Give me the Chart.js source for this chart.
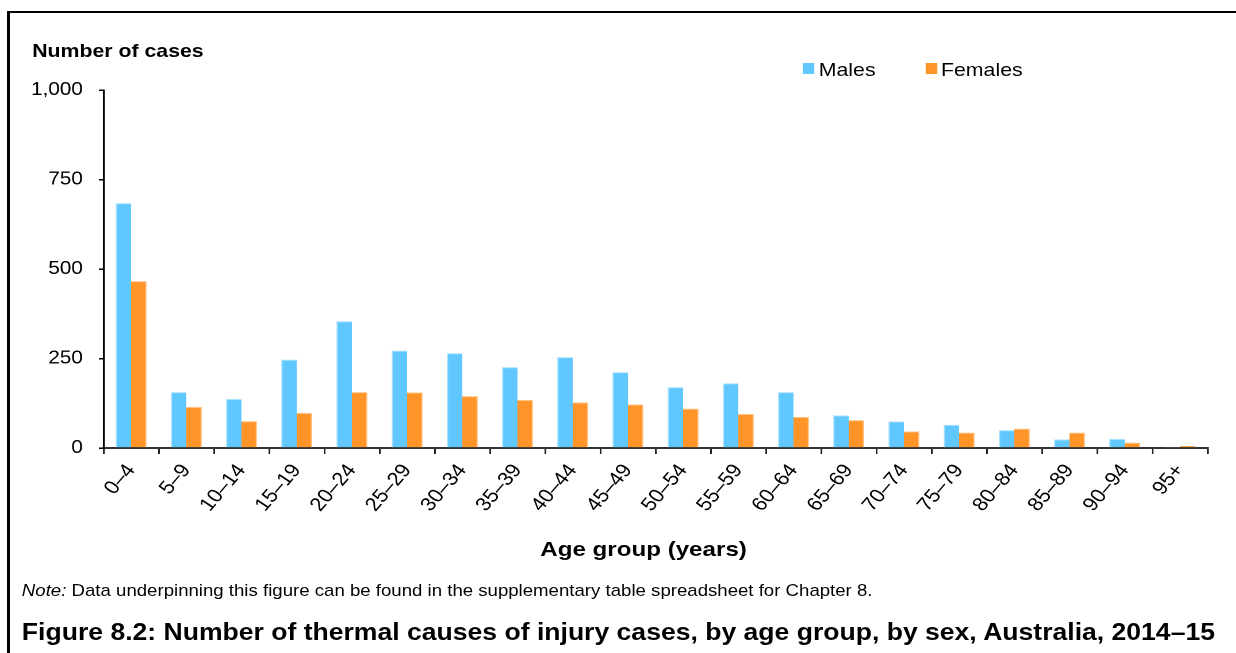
<!DOCTYPE html>
<html>
<head>
<meta charset="utf-8">
<script src="https://cdn.jsdelivr.net/npm/chart.js@4.4.1/dist/chart.umd.min.js"></script>
<style>
  html, body { margin: 0; padding: 0; background: #fff; }
  body { width: 1236px; height: 653px; overflow: hidden; position: relative; font-family: "Liberation Sans", Arial, sans-serif; color: #000; }
  .frame { position: absolute; left: 7px; top: 11px; width: 1400px; height: 800px; border-left: 3px solid #000; border-top: 2px solid #000; }
  /* everything is laid out at 1075px and stretched to the full width */
  .wrap { position: absolute; left: 0; top: 0; width: 1075px; height: 653px; transform: scaleX(1.15); transform-origin: 0 0; }
  .chartBox { position: absolute; left: 0; top: 0; width: 1075px; height: 538px; }
  .txt { position: absolute; white-space: nowrap; line-height: normal; }
  .yTitle { left: 28px; top: 40px; font-size: 18.5px; font-weight: bold; }
  .legend { top: 59px; font-size: 18.5px; }
  .swatch { position: absolute; width: 9.6px; height: 11px; top: 63px; }
  .xTitle { left: 559.6px; top: 537px; font-size: 21px; font-weight: bold; transform: translateX(-50%); }
  .note { left: 19px; top: 581px; font-size: 16.2px; }
  .caption { left: 19px; top: 619px; font-size: 23.1px; font-weight: bold; }
</style>
</head>
<body>
<div class="frame"></div>
<div class="wrap">
  <div class="chartBox"><canvas id="injuryChart"></canvas></div>
  <div class="txt yTitle">Number of cases</div>
  <div class="swatch" id="swMales" style="left: 698.3px;"></div>
  <div class="txt legend" style="left: 712px;">Males</div>
  <div class="swatch" id="swFemales" style="left: 805.2px;"></div>
  <div class="txt legend" style="left: 818.3px;">Females</div>
  <div class="txt xTitle">Age group (years)</div>
  <div class="txt note"><i>Note:</i> Data underpinning this figure can be found in the supplementary table spreadsheet for Chapter 8.</div>
  <div class="txt caption">Figure 8.2: Number of thermal causes of injury cases, by age group, by sex, Australia, 2014–15</div>
</div>
<script>
// Thermal injury cases by age group and sex
const ageGroups = ["0–4", "5–9", "10–14", "15–19", "20–24", "25–29", "30–34", "35–39", "40–44", "45–49",
  "50–54", "55–59", "60–64", "65–69", "70–74", "75–79", "80–84", "85–89", "90–94", "95+"];
const males = [684, 156, 137, 247, 354, 272, 265, 226, 254, 212, 170, 181, 156, 91, 74, 65, 50, 24, 25, 3];
const females = [466, 115, 75, 98, 156, 155, 145, 134, 127, 122, 110, 95, 87, 78, 46, 43, 54, 43, 15, 6];
const yTicks = [0, 250, 500, 750, 1000];

const maleColor = "#60C8FF";
const femaleColor = "#FF9428";

document.getElementById("swMales").style.background = maleColor;
document.getElementById("swFemales").style.background = femaleColor;

Chart.defaults.font.family = "'Liberation Sans', Arial, sans-serif";
Chart.defaults.color = "#000";

const ctx = document.getElementById("injuryChart");
new Chart(ctx, {
  type: "bar",
  data: {
    labels: ageGroups,
    datasets: [
      {
        label: "Males",
        data: males,
        backgroundColor: maleColor,
        borderColor: "#A8E0FF",
        borderWidth: { top: 1, left: 1, right: 0, bottom: 0 },
        borderSkipped: false
      },
      {
        label: "Females",
        data: females,
        backgroundColor: femaleColor,
        borderColor: "#FFC080",
        borderWidth: { top: 1, left: 0, right: 1, bottom: 0 },
        borderSkipped: false
      }
    ]
  },
  options: {
    responsive: true,
    maintainAspectRatio: false,
    animation: false,
    devicePixelRatio: 2,
    layout: { padding: { left: 0, right: 25, top: 90, bottom: 0 } },
    datasets: {
      bar: { categoryPercentage: 0.56, barPercentage: 1.0 }
    },
    plugins: {
      legend: { display: false },
      tooltip: { enabled: false }
    },
    scales: {
      x: {
        grid: { drawOnChartArea: false, drawTicks: true, tickLength: 6, color: "#222", lineWidth: 1.5, offset: true },
        border: { display: true, color: "#333", width: 2 },
        ticks: {
          color: "#000",
          font: { size: 19 },
          // steeper than 45deg because the page gets stretched sideways
          minRotation: 53,
          maxRotation: 53,
          autoSkip: false,
          padding: 6
        },
        afterFit: scale => { scale.height = 90; }
      },
      y: {
        min: 0,
        max: 1000,
        grid: { drawOnChartArea: false, drawTicks: true, tickLength: 4, color: "#000", lineWidth: 1.5 },
        border: { display: true, color: "#000", width: 1.5 },
        ticks: {
          color: "#000",
          font: { size: 18 },
          padding: 14,
          stepSize: 250,
          callback: v => yTicks.includes(v) ? v.toLocaleString("en-US") : ""
        },
        afterFit: scale => { scale.width = 90; }
      }
    }
  }
});
</script>
</body>
</html>
